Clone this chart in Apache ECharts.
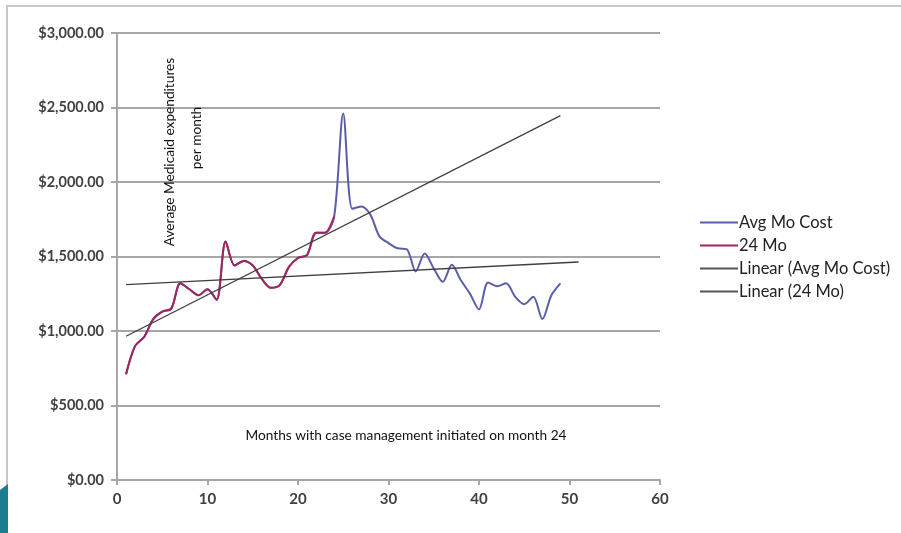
<!DOCTYPE html>
<html><head><meta charset="utf-8">
<script src="https://cdn.jsdelivr.net/npm/echarts@6/dist/echarts.min.js"></script>
<style>html,body{margin:0;padding:0;background:#fff}#c{width:901px;height:533px}</style>
</head><body><div id="c"></div>
<script>
// Months 1..49
var months = [1,2,3,4,5,6,7,8,9,10,11,12,13,14,15,16,17,18,19,20,21,22,23,24,25,26,27,28,29,30,31,32,33,34,35,36,37,38,39,40,41,42,43,44,45,46,47,48,49];
// Avg Mo Cost (all 49 months)
var avgMoCost = [710,900,960,1080,1130,1150,1320,1280,1240,1280,1210,1600,1440,1470,1440,1350,1290,1310,1430,1490,1510,1660,1660,1770,2460,1820,1835,1780,1635,1590,1555,1550,1400,1520,1420,1330,1445,1340,1250,1145,1325,1300,1320,1230,1180,1230,1080,1240,1320];
// 24 Mo (first 24 months)
var mo24 = [710,900,960,1080,1130,1150,1320,1280,1240,1280,1210,1600,1440,1470,1440,1350,1290,1310,1430,1490,1510,1660,1660,1770];
// trendline endpoints
var linAvgX = [1, 51], linAvgY = [1311, 1463];
var lin24X = [1, 49], lin24Y = [965, 2445];
var yTicks = [0, 500, 1000, 1500, 2000, 2500, 3000];
var xTicks = [0, 10, 20, 30, 40, 50, 60];
var seriesNames = ['Avg Mo Cost', '24 Mo', 'Linear (Avg Mo Cost)', 'Linear (24 Mo)'];

function pairs(xs, ys){ return ys.map(function(v,i){ return [xs[i], v]; }); }
function money(v){ return '$' + v.toLocaleString('en-US',{minimumFractionDigits:2, maximumFractionDigits:2}); }

var chart = echarts.init(document.getElementById('c'), null, {renderer:'canvas'});
var font = 'Lato, "Open Sans", sans-serif';
chart.setOption({
  animation:false,
  grid:{left:117, right:241, top:33, bottom:53},
  xAxis:{type:'value', min:0, max:60, interval:10,
    axisLine:{show:true, lineStyle:{color:'#a6a6a6', width:2}},
    axisTick:{show:true, length:5, lineStyle:{color:'#a6a6a6', width:2}},
    splitLine:{show:false},
    axisLabel:{color:'#404040', fontFamily:font, fontWeight:'bold', fontSize:15, margin:12}},
  yAxis:{type:'value', min:0, max:3000, interval:500,
    axisLine:{show:true, lineStyle:{color:'#a6a6a6', width:2}},
    axisTick:{show:true, length:6, lineStyle:{color:'#a6a6a6', width:2}},
    splitLine:{show:true, lineStyle:{color:'#a6a6a6', width:2}},
    axisLabel:{color:'#404040', fontFamily:font, fontWeight:'bold', fontSize:14.5, margin:13,
      formatter:function(v){ return money(v); }}},
  legend:{orient:'vertical', left:695, top:209, itemWidth:38, itemHeight:2, itemGap:6, icon:'rect',
    data:seriesNames,
    textStyle:{color:'#222', fontFamily:font, fontSize:16.5, padding:[0,0,0,-4]}},
  series:[
    {name:seriesNames[0], type:'line', data:pairs(months, avgMoCost), smooth:0.3, showSymbol:false, symbol:'none',
      lineStyle:{color:'#5b5da8', width:2}, itemStyle:{color:'#5b5da8'}, z:2},
    {name:seriesNames[1], type:'line', data:pairs(months, mo24), smooth:0.3, showSymbol:false, symbol:'none',
      lineStyle:{color:'#a2255d', width:2}, itemStyle:{color:'#a2255d'}, z:3},
    {name:seriesNames[2], type:'line', data:pairs(linAvgX, linAvgY), showSymbol:false, symbol:'none',
      lineStyle:{color:'#3f3f3f', width:1.3}, itemStyle:{color:'#555'}, z:4},
    {name:seriesNames[3], type:'line', data:pairs(lin24X, lin24Y), showSymbol:false, symbol:'none',
      lineStyle:{color:'#3f3f3f', width:1.3}, itemStyle:{color:'#555'}, z:4}
  ],
  graphic:[
    {type:'line', z:100, shape:{x1:6, y1:6, x2:901, y2:6}, style:{stroke:'#c8c8c8', lineWidth:2}},
    {type:'line', z:100, shape:{x1:7, y1:6, x2:7, y2:533}, style:{stroke:'#c8c8c8', lineWidth:2}},
    {type:'polygon', z:100, shape:{points:[[0,490],[8,484],[8,533],[0,533]]}, style:{fill:'#1b7d8f'}},
    {type:'text', z:100, x:170, y:152, rotation:Math.PI/2,
      style:{text:'Average Medicaid expenditures', font:'13.7px ' + font, fill:'#111', textAlign:'center', textVerticalAlign:'middle'}},
    {type:'text', z:100, x:197, y:138, rotation:Math.PI/2,
      style:{text:'per month', font:'13.7px ' + font, fill:'#111', textAlign:'center', textVerticalAlign:'middle'}},
    {type:'text', z:100, x:406, y:436,
      style:{text:'Months with case management initiated on month 24', font:'13.7px ' + font, fill:'#111', textAlign:'center', textVerticalAlign:'middle'}}
  ]
});
</script></body></html>
